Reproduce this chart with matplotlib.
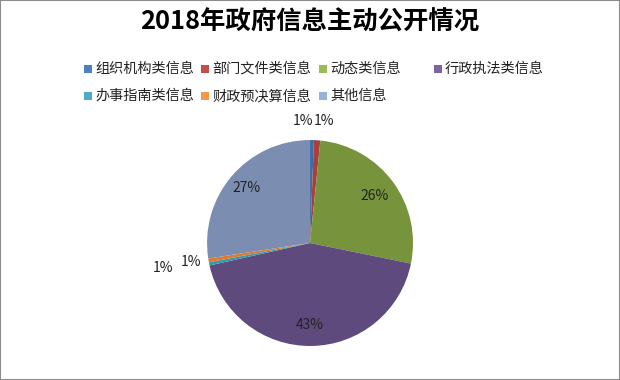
import matplotlib
matplotlib.use("Agg")
from matplotlib import pyplot as plt
from matplotlib.patches import Rectangle

plt.rcParams['font.family'] = ['Noto Sans CJK SC', 'DejaVu Sans']

labels = ['组织机构类信息', '部门文件类信息', '动态类信息', '行政执法类信息',
          '办事指南类信息', '财政预决算信息', '其他信息']
values = [0.6, 1.0, 26.6, 43.3, 0.5, 0.6, 27.4]
pct_text = ['1%', '1%', '26%', '43%', '1%', '1%', '27%']
colors = ['#3A6DA8', '#A83F3B', '#77933C', '#5F4A7D', '#3597B0', '#DE7A2E', '#7B8EB1']
legend_colors = ['#4F81BD', '#C0504D', '#9BBB59', '#8064A2', '#4BACC6', '#F79646', '#95B3D7']

W, H = 620, 380
fig = plt.figure(figsize=(6.2, 3.8), dpi=100)
fig.patches.append(Rectangle((0, 0), 1, 1, transform=fig.transFigure,
                             fill=False, edgecolor='#8c8c8c', lw=1.5))

fig.text(0.5, 1 - 22 / H, '2018年政府信息主动公开情况', ha='center', va='center',
         fontsize=18.3, fontweight='bold')

ax = fig.add_axes([0.3339, 0.0895, 0.3323, 0.542])
wedges, _ = ax.pie(values, colors=colors, startangle=90, counterclock=False,
                   wedgeprops=dict(linewidth=0))
ax.set_aspect('equal')
ax.set_xlim(-1, 1)
ax.set_ylim(-1, 1)

# percent labels (data coordinates relative to the pie)
lab_pos = [(-0.07, 1.18), (0.14, 1.18), (0.63, 0.46), (0.0, -0.80),
           (-1.16, -0.18), (-1.43, -0.24), (-0.62, 0.53)]
for t, (x, y) in zip(pct_text, lab_pos):
    ax.text(x, y, t, ha='center', va='center', fontsize=10, color='#222222')

# legend laid out like the Excel one: 4 columns, row-major
col_x = [84, 201, 319, 434]
row_y = [69, 96]
for i, (lab, c) in enumerate(zip(labels, legend_colors)):
    x = col_x[i % 4]
    y = row_y[i // 4]
    fig.patches.append(Rectangle((x / W, 1 - (y + 4) / H), 8 / W, 8 / H,
                                 transform=fig.transFigure, facecolor=c,
                                 edgecolor='none'))
    fig.text((x + 11) / W, 1 - y / H, lab, ha='left', va='center',
             fontsize=10.2, color='#222222')

fig.savefig('out.png', dpi=100)
